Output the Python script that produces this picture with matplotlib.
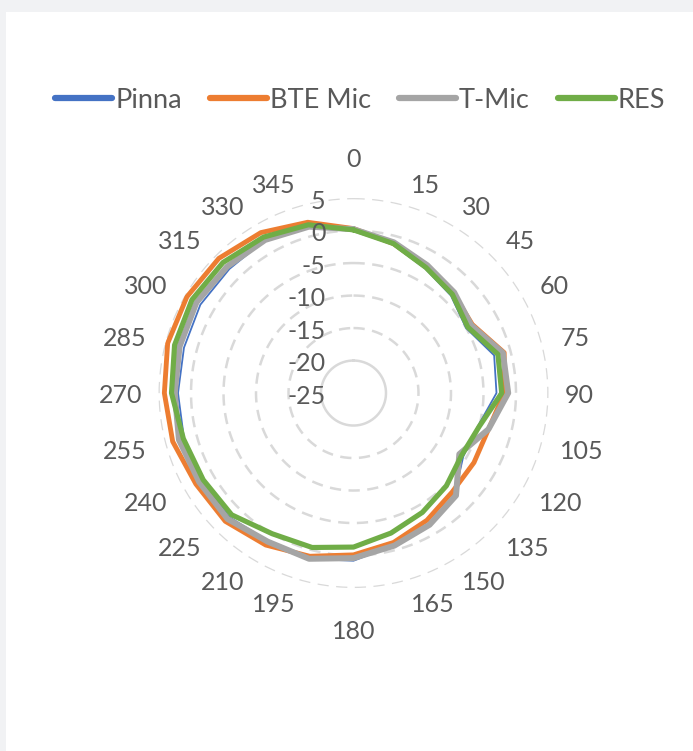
import numpy as np
import matplotlib.pyplot as plt
from matplotlib.lines import Line2D
from matplotlib.transforms import ScaledTranslation

plt.rcParams['font.family'] = ['Lato', 'DejaVu Sans']

# directions (degrees) and levels (dB)
angles = list(range(0, 360, 15))
pinna = [0.2, -1.4, -2.9, -3.8, -5.0, -2.6, -3.0, -5.2, -5.5, -3.0, -1.8, -0.8,
         0.8, 1.4, 1.3, 2.0, 2.0, 2.0, 2.0, 2.0, 2.2, 2.0, 2.2, 1.5]
bte_mic = [0.3, -1.2, -2.6, -3.3, -3.9, -1.0, -1.8, -3.5, -3.6, -3.5, -2.4, -1.2,
           -0.1, 1.0, 2.0, 2.9, 3.0, 3.8, 4.1, 4.6, 4.6, 4.3, 3.5, 2.2]
t_mic = [0.2, -1.0, -2.3, -3.1, -4.1, -1.2, -1.2, -3.5, -6.2, -2.7, -1.6, -0.7,
         0.4, 1.4, 1.4, 2.4, 2.4, 2.8, 2.5, 2.7, 2.9, 2.5, 2.2, 1.5]
res = [0.1, -1.2, -2.7, -3.5, -4.7, -2.0, -2.2, -5.0, -5.8, -4.8, -3.8, -2.7,
       -1.3, -0.4, 0.0, 1.5, 1.7, 2.1, 3.0, 3.5, 3.7, 3.4, 2.7, 1.8]
r_ticks = [5, 0, -5, -10, -15, -20, -25]

names = ['Pinna', 'BTE Mic', 'T-Mic', 'RES']
colors = ['#4472C4', '#ED7D31', '#A5A5A5', '#70AD47']
widths = [1.3, 3.5, 4.3, 3.7]
txt_color = '#595959'
grid_color = '#D9D9D9'

fig = plt.figure(figsize=(6.93, 7.51), dpi=100)
fig.patch.set_facecolor('#F1F2F4')
fig.add_artist(plt.Rectangle((6 / 693, 0), 1, 1 - 12 / 751, transform=fig.transFigure,
                             facecolor='white', edgecolor='none', zorder=-5))

ax = fig.add_axes([0.2287, 0.2170, 0.5628, 0.5193], projection='polar')
ax.set_theta_zero_location('N')
ax.set_theta_direction(-1)
ax.set_facecolor('none')
ax.set_ylim(-25, 5)
ax.grid(False)
ax.spines['polar'].set_visible(False)
ax.set_xticks([])
ax.set_yticks([])

# circular grid
circ = np.linspace(0, 2 * np.pi, 300)
for v in r_ticks[:-1]:
    if v == -20:
        ax.plot(circ, [v] * len(circ), color=grid_color, lw=1.8, zorder=1)
    else:
        ax.plot(circ, [v] * len(circ), color=grid_color, lw=1.8,
                linestyle=(0, (4.5, 3)), zorder=1)

theta = np.deg2rad(angles + [angles[0]])
for name, vals, c, w in zip(names, [pinna, bte_mic, t_mic, res], colors, widths):
    ax.plot(theta, vals + [vals[0]], color=c, lw=w, solid_joinstyle='round',
            solid_capstyle='round', zorder=3)

# radial value labels
off = ScaledTranslation(-0.28, -0.03, fig.dpi_scale_trans)
for v in r_ticks:
    ax.text(0, v, str(v), transform=ax.transData + off, ha='right', va='center',
            fontsize=18, color=txt_color, zorder=5)

# direction labels just outside the outer ring
for a in angles:
    t = np.deg2rad(a)
    s, c = np.sin(t), np.cos(t)
    w = 7.3 * len(str(a)) + 3
    if abs(s) < 0.05:
        dx, dy = 0, 41 * np.sign(c)
    elif abs(c) < 0.05:
        dx, dy = (13 + w) * np.sign(s), 0
    else:
        dx = 16 * s + np.sign(s) * w
        dy = 22 * c
    ax.annotate(str(a), xy=(t, 5), xytext=(dx, dy - 2),
                textcoords='offset pixels', ha='center', va='center',
                fontsize=18, color=txt_color, annotation_clip=False)

handles = [Line2D([0], [0], color=c, lw=4.5, solid_capstyle='round') for c in colors]
fig.legend(handles, names, loc='center', bbox_to_anchor=(0.52, 1 - 100 / 751), ncol=4,
           frameon=False, fontsize=19.5, handlelength=2.1, handletextpad=0.1,
           columnspacing=1.05, labelcolor=txt_color)

fig.savefig('out.png', dpi=100, facecolor=fig.get_facecolor())
